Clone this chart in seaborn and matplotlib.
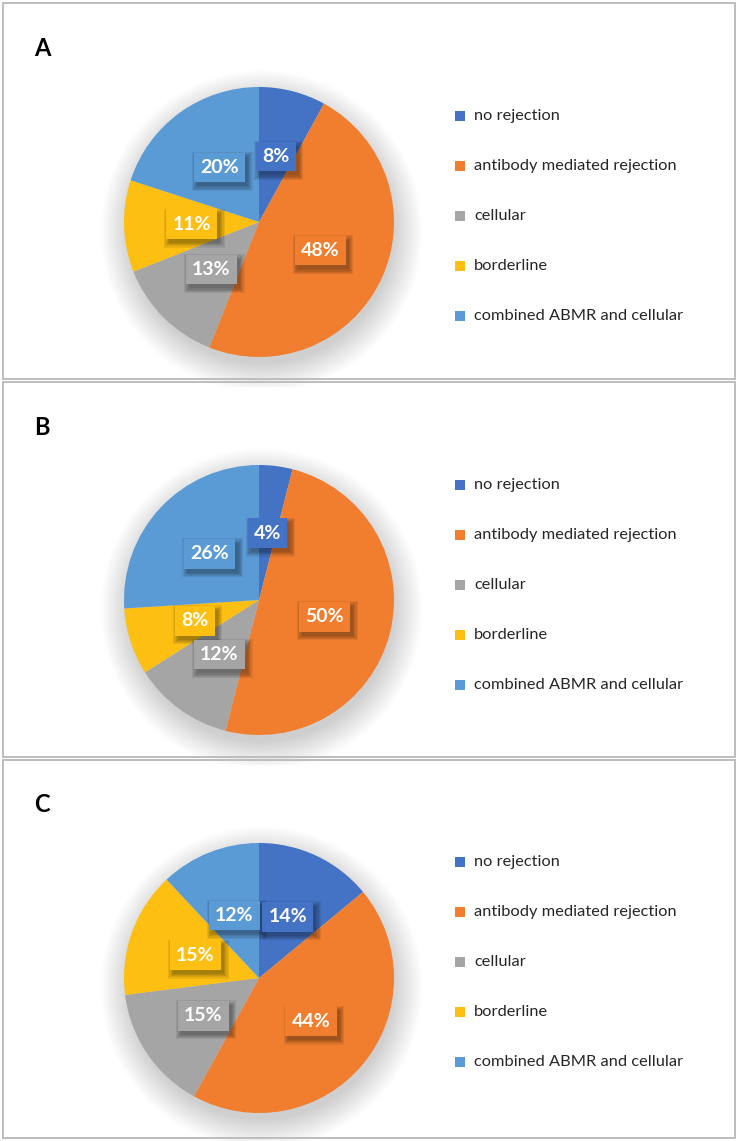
import matplotlib
matplotlib.use("Agg")
import matplotlib.pyplot as plt
import seaborn as sns
from matplotlib.patches import Rectangle, Circle

categories = ["no rejection", "antibody mediated rejection", "cellular",
              "borderline", "combined ABMR and cellular"]
panel_names = ["A", "B", "C"]
share_a = [8, 48, 13, 11, 20]
share_b = [4, 50, 12, 8, 26]
share_c = [14, 44, 15, 15, 12]
colors = ["#4472C4", "#F07E2E", "#A5A5A5", "#FDBF12", "#5B9BD5"]

sns.set_theme(style="white")
plt.rcParams["font.family"] = ["Lato", "DejaVu Sans"]

W, H = 738, 1141
fig = plt.figure(figsize=(W / 100, H / 100), dpi=100)

def fx(x):
    return x / W

def fy(y):
    return 1 - y / H

# panel frames (top, bottom), pie centre y, legend centre y
panels = [(3, 379, 222, 216), (382, 757, 600, 585), (760, 1138, 978, 962)]
pie_cx, radius = 259, 135
all_labels = []

for name, shares, (top, bot, cy, ly) in zip(panel_names, [share_a, share_b, share_c], panels):
    fig.patches.append(Rectangle((fx(3), fy(bot)), fx(732), (bot - top) / H,
                                 transform=fig.transFigure, fill=False,
                                 edgecolor="#bdbdbd", linewidth=1.4))
    fig.text(fx(42), fy(top + 45), name, fontsize=17, fontweight="bold",
             ha="center", va="center", color="black")

    ax = fig.add_axes([fx(pie_cx - radius - 30), fy(cy + radius + 30),
                       (2 * radius + 60) / W, (2 * radius + 60) / H])
    # soft shadow under the pie
    for k in range(16):
        ax.add_patch(Circle((0.02, -0.07), 0.98 + 0.014 * k, color="#000000",
                            alpha=0.012, linewidth=0, zorder=0))
    wedges, texts, autotexts = ax.pie(
        shares, colors=colors, startangle=90, counterclock=False,
        autopct="%d%%", pctdistance=0.5,
        wedgeprops=dict(linewidth=0))
    lim = 1 + 30 / radius
    ax.set_xlim(-lim, lim)
    ax.set_ylim(-lim, lim)
    ax.set_aspect("equal")
    for w in wedges:
        w.set_zorder(2)
    for t, c in zip(autotexts, colors):
        t.set_fontsize(14)
        t.set_fontweight("bold")
        t.set_color("white")
        t.set_zorder(5)
        t.set_bbox(dict(boxstyle="square,pad=0.32", facecolor=c, edgecolor="none"))
        all_labels.append((ax, t))

    for i, (cat, c) in enumerate(zip(categories, colors)):
        yy = ly + (i - 2) * 50
        fig.patches.append(Rectangle((fx(455), fy(yy + 5)), 10 / W, 10 / H,
                                     transform=fig.transFigure, facecolor=c,
                                     edgecolor="none"))
        fig.text(fx(474), fy(yy), cat, fontsize=11.8, ha="left", va="center",
                 color="#262626")

# soft drop shadows behind the percentage boxes (pixel coordinates)
fig.canvas.draw()
for ax, t in all_labels:
    bb = t.get_bbox_patch().get_window_extent()
    for k in range(5):
        grow = k * 1.2
        ax.add_patch(Rectangle((bb.x0 + 3 - grow, bb.y0 - 4 - grow),
                               bb.width + 2 * grow, bb.height + 2 * grow,
                               transform=None, facecolor="#000000",
                               alpha=0.08, edgecolor="none", zorder=4,
                               clip_on=False))

fig.savefig("out.png", dpi=100, facecolor="white")
